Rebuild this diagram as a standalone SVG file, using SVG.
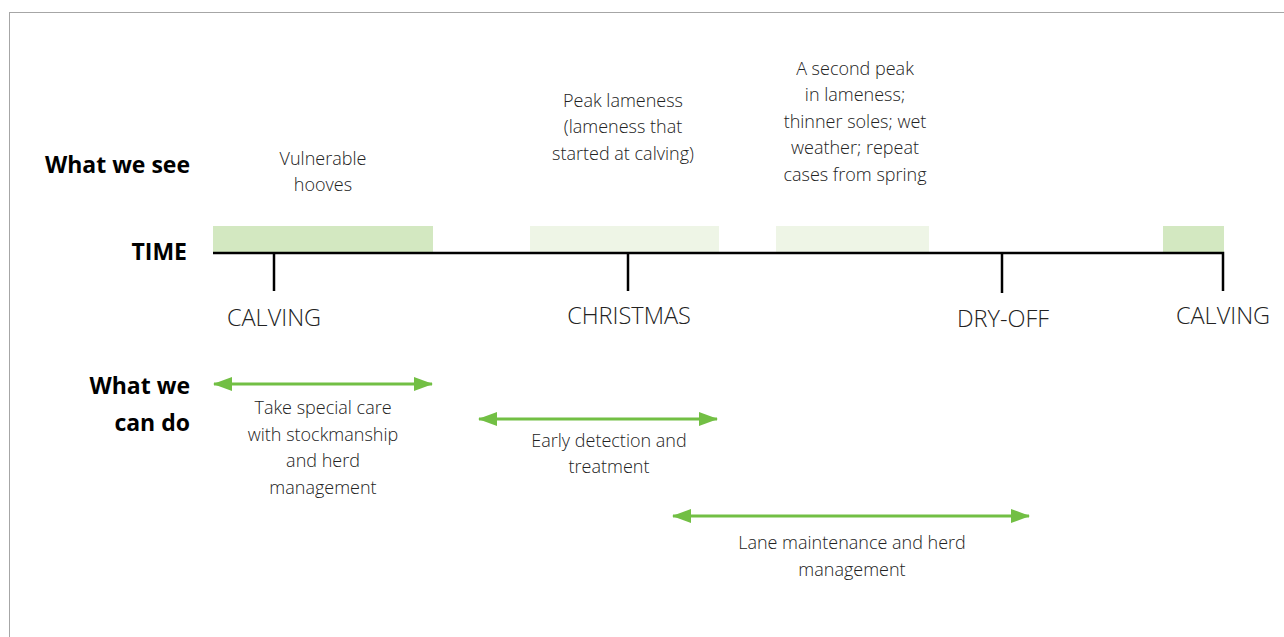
<svg xmlns="http://www.w3.org/2000/svg" width="1284" height="637" viewBox="0 0 1284 637">
<style>
.lbl{font-family:"Open Sans","Noto Sans",sans-serif;font-weight:700;font-size:23px;fill:#000;text-anchor:end}
.ev{font-family:"Open Sans","Noto Sans",sans-serif;font-size:23.5px;fill:#222;text-anchor:middle;font-weight:300}
.t{font-family:"Open Sans","Noto Sans",sans-serif;font-size:18px;fill:#222;text-anchor:middle;font-weight:300}
.arr{stroke:#72bf44;stroke-width:3;fill:none;marker-start:url(#ah);marker-end:url(#ah)}
.tick{stroke:#000;stroke-width:2.5;fill:none}
</style>
<defs>
<marker id="ah" viewBox="0 0 19 14" refX="18" refY="7" markerWidth="19" markerHeight="14" markerUnits="userSpaceOnUse" orient="auto-start-reverse">
<path d="M0,0 L19,7 L0,14 Z" fill="#72bf44"/>
</marker>
</defs>
<rect x="9.5" y="12.5" width="1290" height="640" fill="#fff" stroke="#a6a6a6" stroke-width="1"/>
<g id="labels">
<text class="lbl" x="190" y="173">What we see</text>
<text class="lbl" x="187" y="260" font-size="28px">TIME</text>
<text class="lbl" x="190" y="394">What we</text>
<text class="lbl" x="190" y="431">can do</text>
</g>
<g id="bars">
<rect x="213" y="226" width="220" height="26" fill="#d3e8c1"/>
<rect x="530" y="226" width="189" height="26" fill="#eef5e6"/>
<rect x="776" y="226" width="153" height="26" fill="#eef5e6"/>
<rect x="1163" y="226" width="61" height="26" fill="#d3e8c1"/>
</g>
<g id="timeline">
<path class="tick" d="M213,253 H1223 V291"/>
<path class="tick" d="M274,253 V291"/>
<path class="tick" d="M628,253 V291"/>
<path class="tick" d="M1002,253 V293"/>
</g>
<g id="events">
<text class="ev" x="274" y="326">CALVING</text>
<text class="ev" x="629" y="324">CHRISTMAS</text>
<text class="ev" x="1003" y="327">DRY-OFF</text>
<text class="ev" x="1223" y="324">CALVING</text>
</g>
<g id="see">
<text class="t"><tspan x="323" y="165">Vulnerable</tspan><tspan x="323" y="191">hooves</tspan></text>
<text class="t"><tspan x="623" y="107">Peak lameness</tspan><tspan x="623" y="133">(lameness that</tspan><tspan x="623" y="159.5">started at calving)</tspan></text>
<text class="t"><tspan x="855" y="75">A second peak</tspan><tspan x="855" y="101">in lameness;</tspan><tspan x="855" y="127.5">thinner soles; wet</tspan><tspan x="855" y="154">weather; repeat</tspan><tspan x="855" y="180.5">cases from spring</tspan></text>
</g>
<g id="connectors">
<line class="arr" x1="214" y1="384" x2="432" y2="384"/>
<line class="arr" x1="479" y1="419" x2="717" y2="419"/>
<line class="arr" x1="673" y1="516" x2="1029" y2="516"/>
</g>
<g id="do">
<text class="t"><tspan x="323" y="414">Take special care</tspan><tspan x="323" y="440.5">with stockmanship</tspan><tspan x="323" y="467">and herd</tspan><tspan x="323" y="493.5">management</tspan></text>
<text class="t"><tspan x="609" y="446.5">Early detection and</tspan><tspan x="609" y="473">treatment</tspan></text>
<text class="t"><tspan x="852" y="549">Lane maintenance and herd</tspan><tspan x="852" y="575.5">management</tspan></text>
</g>
</svg>
